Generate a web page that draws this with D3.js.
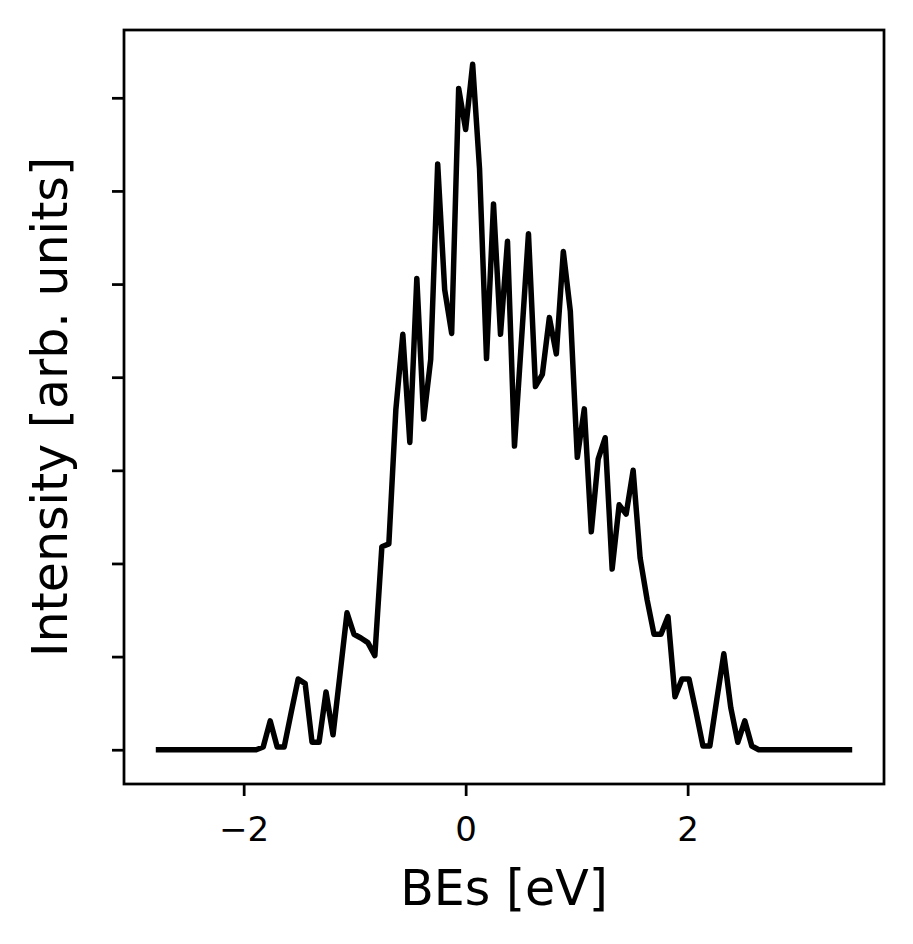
<!DOCTYPE html>
<html>
<head>
<meta charset="utf-8">
<script src="https://cdn.jsdelivr.net/npm/d3@7"></script>
<style>
  body { margin: 0; background: #fff; }
  svg { display: block; font-family: "DejaVu Sans", sans-serif; }
</style>
</head>
<body>
<svg id="chart"></svg>
<script>
// binding energies (eV)
const energies = [
  -2.767, -2.704, -2.641, -2.578, -2.515, -2.453, -2.390, -2.327, -2.264, -2.201,
  -2.138, -2.075, -2.012, -1.950, -1.887, -1.824, -1.761, -1.698, -1.635, -1.572,
  -1.509, -1.446, -1.384, -1.321, -1.258, -1.195, -1.132, -1.069, -1.006, -0.944,
  -0.881, -0.818, -0.755, -0.692, -0.629, -0.566, -0.503, -0.440, -0.378, -0.315,
  -0.252, -0.189, -0.126, -0.063, 0.000, 0.063, 0.125, 0.188, 0.251, 0.314,
  0.377, 0.440, 0.503, 0.566, 0.629, 0.691, 0.754, 0.817, 0.880, 0.943,
  1.006, 1.069, 1.132, 1.194, 1.257, 1.320, 1.383, 1.446, 1.509, 1.572,
  1.635, 1.697, 1.760, 1.823, 1.886, 1.949, 2.012, 2.075, 2.138, 2.200,
  2.263, 2.326, 2.389, 2.452, 2.515, 2.578, 2.641, 2.703, 2.766, 2.829,
  2.892, 2.955, 3.018, 3.081, 3.143, 3.206, 3.269, 3.332, 3.395, 3.458
];

// intensity (arb. units)
const intensity = [
  0, 0, 0, 0, 0, 0, 0, 0, 0, 0,
  0, 0, 0, 0, 0, 0.03, 0.31, 0.03, 0.03, 0.40,
  0.76, 0.71, 0.08, 0.08, 0.62, 0.16, 0.81, 1.47, 1.24, 1.20,
  1.15, 1.01, 2.18, 2.21, 3.65, 4.46, 3.30, 5.06, 3.55, 4.19,
  6.29, 4.94, 4.47, 7.10, 6.66, 7.36, 6.24, 4.20, 5.86, 4.46,
  5.46, 3.26, 4.40, 5.54, 3.90, 4.03, 4.64, 4.25, 5.35, 4.71,
  3.14, 3.66, 2.34, 3.12, 3.35, 1.94, 2.63, 2.53, 3.00, 2.06,
  1.61, 1.24, 1.24, 1.43, 0.57, 0.76, 0.76, 0.41, 0.04, 0.04,
  0.54, 1.03, 0.45, 0.08, 0.31, 0.04, 0, 0, 0, 0,
  0, 0, 0, 0, 0, 0, 0, 0, 0, 0
];

const xTicks = [-2, 0, 2];
const yTicks = [0, 1, 2, 3, 4, 5, 6, 7];

const xLabel = "BEs [eV]";
const yLabel = "Intensity [arb. units]";

const width = 913;
const height = 944;
const margin = {left: 124, right: 29, top: 30, bottom: 160};

const svg = d3.select("#chart")
  .attr("width", width)
  .attr("height", height);

const points = energies.map((e, i) => ({x: e, y: intensity[i]}));

// matplotlib-like 5% margins around the data
function padded(extent) {
  const r = extent[1] - extent[0];
  return [extent[0] - 0.05 * r, extent[1] + 0.05 * r];
}

const x = d3.scaleLinear()
  .domain(padded(d3.extent(energies)))
  .range([margin.left, width - margin.right]);

const y = d3.scaleLinear()
  .domain(padded([0, d3.max(intensity)]))
  .range([height - margin.bottom, margin.top]);

const plotBottom = height - margin.bottom;

// x axis
svg.append("g")
  .attr("transform", `translate(0,${plotBottom})`)
  .call(d3.axisBottom(x).tickValues(xTicks).tickSize(12).tickFormat(d3.format("d")))
  .call(g => g.select(".domain").remove())
  .call(g => g.selectAll(".tick line").attr("stroke", "#000").attr("stroke-width", 2.75))
  .call(g => g.selectAll(".tick text")
    .attr("fill", "#000")
    .attr("dy", null)
    .attr("y", 57)
    .style("font-size", "34px")
    .style("font-family", "DejaVu Sans"));

// y axis, ticks only
svg.append("g")
  .attr("transform", `translate(${margin.left},0)`)
  .call(d3.axisLeft(y).tickValues(yTicks).tickSize(12).tickFormat(""))
  .call(g => g.select(".domain").remove())
  .call(g => g.selectAll(".tick line").attr("stroke", "#000").attr("stroke-width", 2.75));

// the spectrum
const line = d3.line()
  .x(d => x(d.x))
  .y(d => y(d.y));

svg.append("path")
  .datum(points)
  .attr("fill", "none")
  .attr("stroke", "#000")
  .attr("stroke-width", 5.5)
  .attr("stroke-linejoin", "round")
  .attr("stroke-linecap", "square")
  .attr("d", line);

// frame
svg.append("rect")
  .attr("x", margin.left)
  .attr("y", margin.top)
  .attr("width", width - margin.left - margin.right)
  .attr("height", plotBottom - margin.top)
  .attr("fill", "none")
  .attr("stroke", "#000")
  .attr("stroke-width", 2.75);

// axis labels
svg.append("text")
  .attr("x", (margin.left + width - margin.right) / 2)
  .attr("y", 905)
  .attr("text-anchor", "middle")
  .style("font-size", "49px")
  .text(xLabel);

svg.append("text")
  .attr("transform", `translate(67,${(margin.top + plotBottom) / 2}) rotate(-90)`)
  .attr("text-anchor", "middle")
  .style("font-size", "49px")
  .text(yLabel);
</script>
</body>
</html>
